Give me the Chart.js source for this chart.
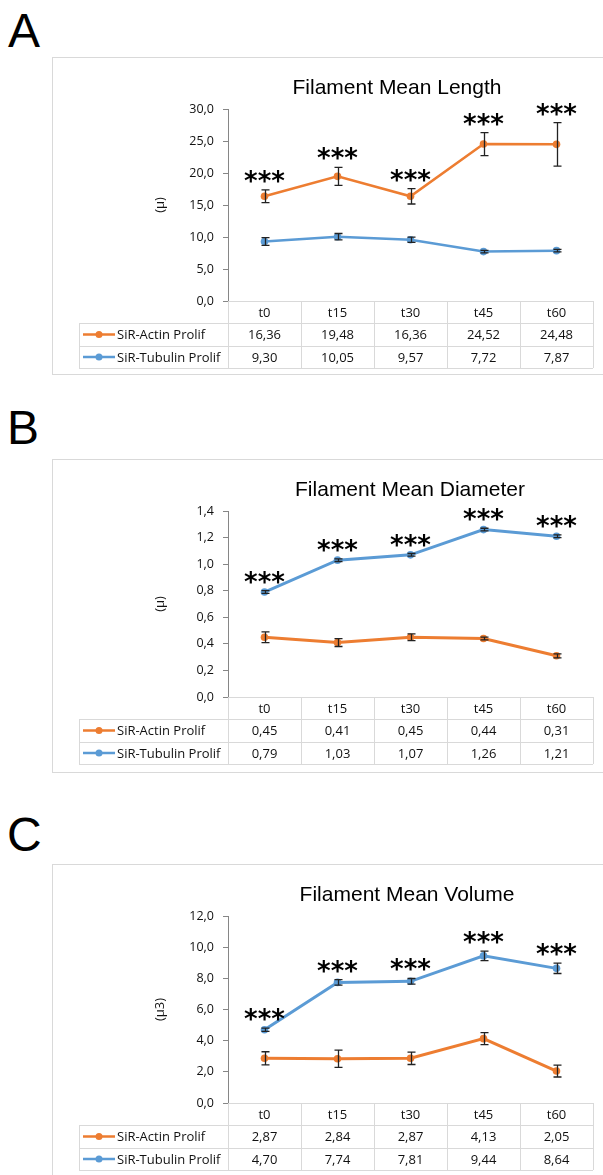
<!DOCTYPE html>
<html>
<head>
<meta charset="utf-8">
<script src="https://cdn.jsdelivr.net/npm/chart.js@4.4.0/dist/chart.umd.min.js"></script>
<style>
  body { margin: 0; background: #fff; width: 603px; height: 1175px; overflow: hidden; position: relative; font-family: 'Liberation Sans', Arial, sans-serif; }
  .letter { position: absolute; font-size: 48px; line-height: 48px; color: #000; }
  .box { position: absolute; left: 52px; width: 600px; border: 1px solid #d9d9d9; box-sizing: border-box; }
  canvas { position: absolute; left: 52px; }
</style>
</head>
<body>
<div class="letter" style="left:8px;top:7px">A</div>
<div class="letter" style="left:7px;top:404px">B</div>
<div class="letter" style="left:7px;top:811px">C</div>

<div class="box" style="top:57px;height:318px"></div>
<div class="box" style="top:459px;height:314px"></div>
<div class="box" style="top:864px;height:330px"></div>

<canvas id="chart-a" width="551" height="318" style="top:57px"></canvas>
<canvas id="chart-b" width="551" height="314" style="top:459px"></canvas>
<canvas id="chart-c" width="551" height="311" style="top:864px"></canvas>

<script>
// ─── Data ───────────────────────────────────────────────────
const timeLabels = ['t0', 't15', 't30', 't45', 't60'];
const seriesNames = ['SiR-Actin Prolif', 'SiR-Tubulin Prolif'];
const starLabels = ['***', '***', '***', '***', '***'];

const lengthActin = [16.36, 19.48, 16.36, 24.52, 24.48];
const lengthActinErr = [1.0, 1.4, 1.2, 1.8, 3.4];
const lengthTubulin = [9.30, 10.05, 9.57, 7.72, 7.87];
const lengthTubulinErr = [0.6, 0.5, 0.4, 0.2, 0.2];

const diameterActin = [0.45, 0.41, 0.45, 0.44, 0.31];
const diameterActinErr = [0.04, 0.03, 0.025, 0.01, 0.015];
const diameterTubulin = [0.79, 1.03, 1.07, 1.26, 1.21];
const diameterTubulinErr = [0.01, 0.01, 0.01, 0.01, 0.01];

const volumeActin = [2.87, 2.84, 2.87, 4.13, 2.05];
const volumeActinErr = [0.42, 0.55, 0.40, 0.38, 0.38];
const volumeTubulin = [4.70, 7.74, 7.81, 9.44, 8.64];
const volumeTubulinErr = [0.10, 0.18, 0.18, 0.30, 0.33];

const ACTIN = '#ED7D31';
const TUBULIN = '#5B9BD5';
const FONT = "'Open Sans', 'Noto Sans', sans-serif";
const TEXT = '#111';

const fmt = (v, d) => v.toFixed(d).replace('.', ',');

// ─── Extras: error bars, stars, titles, data table ─────────
const panelExtras = {
  id: 'panelExtras',
  afterDatasetsDraw(chart, args, opts) {
    const { ctx, scales: { x, y } } = chart;
    ctx.save();
    ctx.strokeStyle = '#222';
    ctx.lineWidth = 1.3;
    chart.data.datasets.forEach((ds, di) => {
      const errs = opts.errors[di];
      ds.data.forEach((v, i) => {
        const px = Math.round(x.getPixelForValue(i)) + 0.5;
        const hi = y.getPixelForValue(v + errs[i]);
        const lo = y.getPixelForValue(v - errs[i]);
        ctx.beginPath();
        ctx.moveTo(px, hi); ctx.lineTo(px, lo);
        ctx.moveTo(px - 4, hi); ctx.lineTo(px + 4, hi);
        ctx.moveTo(px - 4, lo); ctx.lineTo(px + 4, lo);
        ctx.stroke();
      });
    });
    ctx.restore();
  },
  afterDraw(chart, args, opts) {
    const { ctx, chartArea, scales: { x, y } } = chart;
    ctx.save();

    // chart title
    ctx.fillStyle = '#000';
    ctx.font = "21px 'Liberation Sans', Arial, sans-serif";
    ctx.textAlign = 'center';
    ctx.textBaseline = 'alphabetic';
    ctx.fillText(opts.title, opts.titleX, 37);

    // y axis title
    ctx.save();
    ctx.translate(108, (chartArea.top + chartArea.bottom) / 2);
    ctx.rotate(-Math.PI / 2);
    ctx.font = '13px ' + FONT;
    ctx.fillStyle = TEXT;
    ctx.textBaseline = 'middle';
    ctx.textAlign = 'center';
    ctx.fillText(opts.yTitle, 0, 0);
    ctx.restore();

    // significance stars
    const sIdx = opts.starSeries;
    const sData = chart.data.datasets[sIdx].data;
    ctx.font = "bold 26px 'DejaVu Sans', sans-serif";
    ctx.fillStyle = '#000';
    ctx.textAlign = 'center';
    sData.forEach((v, i) => {
      const top = y.getPixelForValue(v + opts.errors[sIdx][i]);
      ctx.fillText(starLabels[i], x.getPixelForValue(i), top);
    });

    // data table
    const n = timeLabels.length;
    const colW = (chartArea.right - chartArea.left) / n;
    const legendLeft = 27;
    const t0 = chartArea.bottom;
    const r1 = t0 + 22, r2 = r1 + 23, r3 = r2 + 22;
    const px = v => Math.round(v) + 0.5;
    ctx.strokeStyle = '#d9d9d9';
    ctx.lineWidth = 1;
    ctx.beginPath();
    ctx.moveTo(chartArea.left, px(t0)); ctx.lineTo(chartArea.right, px(t0));
    [r1, r2, r3].forEach(ry => { ctx.moveTo(legendLeft, px(ry)); ctx.lineTo(chartArea.right, px(ry)); });
    for (let i = 0; i <= n; i++) {
      const cx = px(chartArea.left + i * colW);
      ctx.moveTo(cx, t0); ctx.lineTo(cx, r3);
    }
    ctx.moveTo(px(legendLeft), r1); ctx.lineTo(px(legendLeft), r3);
    ctx.stroke();

    ctx.font = '13px ' + FONT;
    ctx.fillStyle = TEXT;
    ctx.textAlign = 'center';
    ctx.textBaseline = 'middle';
    timeLabels.forEach((lab, i) => ctx.fillText(lab, x.getPixelForValue(i), (t0 + r1) / 2 + 1));

    const rows = [[r1, r2], [r2, r3]];
    chart.data.datasets.forEach((ds, di) => {
      const cy = (rows[di][0] + rows[di][1]) / 2 + 1;
      ctx.textAlign = 'center';
      ctx.fillStyle = TEXT;
      ds.data.forEach((v, i) => ctx.fillText(fmt(v, 2), x.getPixelForValue(i), cy));
      // legend key
      ctx.strokeStyle = ds.borderColor;
      ctx.lineWidth = 2.5;
      ctx.beginPath();
      ctx.moveTo(legendLeft + 4, cy - 1); ctx.lineTo(legendLeft + 36, cy - 1);
      ctx.stroke();
      ctx.fillStyle = ds.borderColor;
      ctx.beginPath();
      ctx.arc(legendLeft + 20, cy - 1, 3.5, 0, Math.PI * 2);
      ctx.fill();
      ctx.fillStyle = TEXT;
      ctx.textAlign = 'left';
      ctx.fillText(ds.label, legendLeft + 38, cy);
    });
    ctx.restore();
  },
};

function makePanel(canvasId, cfg) {
  const canvas = document.getElementById(canvasId);
  const mk = (label, data, color) => ({
    label, data,
    borderColor: color,
    backgroundColor: color,
    borderWidth: cfg.lineWidth,
    pointRadius: 3.8,
    pointBorderWidth: 0,
    pointBackgroundColor: color,
    tension: 0,
  });
  return new Chart(canvas, {
    type: 'line',
    data: {
      labels: timeLabels,
      datasets: [mk(seriesNames[0], cfg.actin, ACTIN), mk(seriesNames[1], cfg.tubulin, TUBULIN)],
    },
    plugins: [panelExtras],
    options: {
      responsive: false,
      animation: false,
      layout: { padding: { top: 52, right: 10, bottom: canvas.height - 52 - cfg.plotH, left: 0 } },
      plugins: {
        legend: { display: false },
        tooltip: { enabled: false },
        panelExtras: {
          title: cfg.title, titleX: cfg.titleX, yTitle: cfg.yTitle,
          errors: [cfg.actinErr, cfg.tubulinErr], starSeries: cfg.starSeries,
        },
      },
      scales: {
        x: { type: 'category', offset: true, display: false },
        y: {
          min: 0, max: cfg.yMax,
          afterFit: s => { s.width = 176; },
          ticks: {
            stepSize: cfg.yStep,
            padding: 9,
            color: TEXT,
            font: { size: 12.5, family: FONT },
            callback: v => fmt(v, 1),
          },
          grid: { drawOnChartArea: false, drawTicks: true, tickLength: 5, color: '#868686' },
          border: { color: '#868686', width: 1 },
        },
      },
    },
  });
}

makePanel('chart-a', {
  title: 'Filament Mean Length', titleX: 345, yTitle: '(µ)', plotH: 192,
  yMax: 30, yStep: 5, lineWidth: 2.5, starSeries: 0,
  actin: lengthActin, actinErr: lengthActinErr, tubulin: lengthTubulin, tubulinErr: lengthTubulinErr,
});
makePanel('chart-b', {
  title: 'Filament Mean Diameter', titleX: 358, yTitle: '(µ)', plotH: 186,
  yMax: 1.4, yStep: 0.2, lineWidth: 3, starSeries: 1,
  actin: diameterActin, actinErr: diameterActinErr, tubulin: diameterTubulin, tubulinErr: diameterTubulinErr,
});
makePanel('chart-c', {
  title: 'Filament Mean Volume', titleX: 355, yTitle: '(µ3)', plotH: 187,
  yMax: 12, yStep: 2, lineWidth: 3, starSeries: 1,
  actin: volumeActin, actinErr: volumeActinErr, tubulin: volumeTubulin, tubulinErr: volumeTubulinErr,
});
</script>
</body>
</html>
